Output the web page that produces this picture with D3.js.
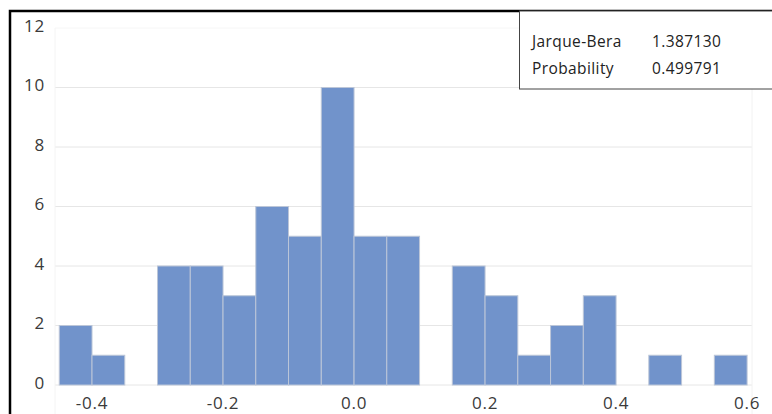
<!DOCTYPE html>
<html>
<head>
<meta charset="utf-8">
<script src="https://cdn.jsdelivr.net/npm/d3@7"></script>
<style>
  body { margin: 0; background: #fff; }
  svg text { font-family: "Open Sans", "Liberation Sans", sans-serif; }
</style>
</head>
<body>
<svg id="chart" width="772" height="414"></svg>
<script>
// histogram bins (lower edge) and counts, bin width 0.05
var binStart = [-0.45, -0.40, -0.35, -0.30, -0.25, -0.20, -0.15, -0.10, -0.05, 0.00, 0.05,
                0.10, 0.15, 0.20, 0.25, 0.30, 0.35, 0.40, 0.45, 0.50, 0.55];
var counts   = [2, 1, 0, 4, 4, 3, 6, 5, 10, 5, 5,
                0, 4, 3, 1, 2, 3, 0, 1, 0, 1];
var binWidth = 0.05;
var xTicks = [-0.4, -0.2, 0.0, 0.2, 0.4, 0.6];
var yTicks = [0, 2, 4, 6, 8, 10, 12];
var statNames = ["Jarque-Bera", "Probability"];
var statValues = ["1.387130", "0.499791"];

var bins = binStart.map(function(s, i){ return {start: s, count: counts[i]}; })
    .filter(function(b){ return b.count > 0; });

var svg = d3.select("#chart");

var x = d3.scaleLinear()
    .domain([-0.4565, 0.6075])
    .range([55, 752]);
var y = d3.scaleLinear()
    .domain([0, 12])
    .range([385, 28]);

// gridlines
svg.append("g").selectAll("line")
    .data(yTicks)
    .enter().append("line")
    .attr("x1", x.range()[0])
    .attr("x2", x.range()[1])
    .attr("y1", function(d){ return y(d); })
    .attr("y2", function(d){ return y(d); })
    .attr("stroke", function(d){ return d == 12 ? "#f6f6f6" : "#e6e6e6"; })
    .attr("stroke-width", 1);

// faint plot area edges
svg.append("line")
    .attr("x1", x.range()[1]).attr("x2", x.range()[1])
    .attr("y1", 28).attr("y2", 414)
    .attr("stroke", "#f2f2f2");
svg.append("line")
    .attr("x1", x.range()[0]).attr("x2", x.range()[0])
    .attr("y1", 28).attr("y2", 414)
    .attr("stroke", "#f4f4f4");

// bars
svg.append("g").selectAll("rect")
    .data(bins)
    .enter().append("rect")
    .attr("x", function(d){ return x(d.start); })
    .attr("y", function(d){ return y(d.count); })
    .attr("width", function(d){ return x(d.start + binWidth) - x(d.start); })
    .attr("height", function(d){ return y(0) - y(d.count); })
    .attr("fill", "#7193cb")
    .attr("stroke", "#bcc6d8")
    .attr("stroke-width", 1);

// y labels
svg.append("g").selectAll("text")
    .data(yTicks)
    .enter().append("text")
    .attr("x", 45)
    .attr("y", function(d){ return y(d); })
    .attr("dy", "0.22em")
    .attr("text-anchor", "end")
    .attr("font-size", "17px")
    .attr("letter-spacing", "0.8px")
    .attr("fill", "#3a3a3a")
    .text(function(d){ return d; });

// x labels
svg.append("g").selectAll("text")
    .data(xTicks)
    .enter().append("text")
    .attr("x", function(d){ return x(d); })
    .attr("y", 409)
    .attr("text-anchor", "middle")
    .attr("font-size", "17px")
    .attr("letter-spacing", "0.8px")
    .attr("fill", "#3a3a3a")
    .text(function(d){ return d3.format(".1f")(d).replace("\u2212", "-"); });

// frame (top and left)
svg.append("path")
    .attr("d", "M10,414 L10,11 L772,11")
    .attr("fill", "none")
    .attr("stroke", "#000")
    .attr("stroke-width", 2.5);

// stats box
svg.append("rect")
    .attr("x", 519.5).attr("y", 11)
    .attr("width", 260).attr("height", 78)
    .attr("fill", "#fff")
    .attr("stroke", "#444")
    .attr("stroke-width", 1);

var stats = svg.append("g");
statNames.forEach(function(name, i){
    stats.append("text")
        .attr("x", 532)
        .attr("y", 47 + i * 27)
        .attr("font-size", "15.5px")
        .attr("letter-spacing", "0.4px")
        .attr("fill", "#222")
        .text(name);
    stats.append("text")
        .attr("x", 652)
        .attr("y", 47 + i * 27)
        .attr("font-size", "15.5px")
        .attr("letter-spacing", "0.4px")
        .attr("fill", "#222")
        .text(statValues[i]);
});
</script>
</body>
</html>
